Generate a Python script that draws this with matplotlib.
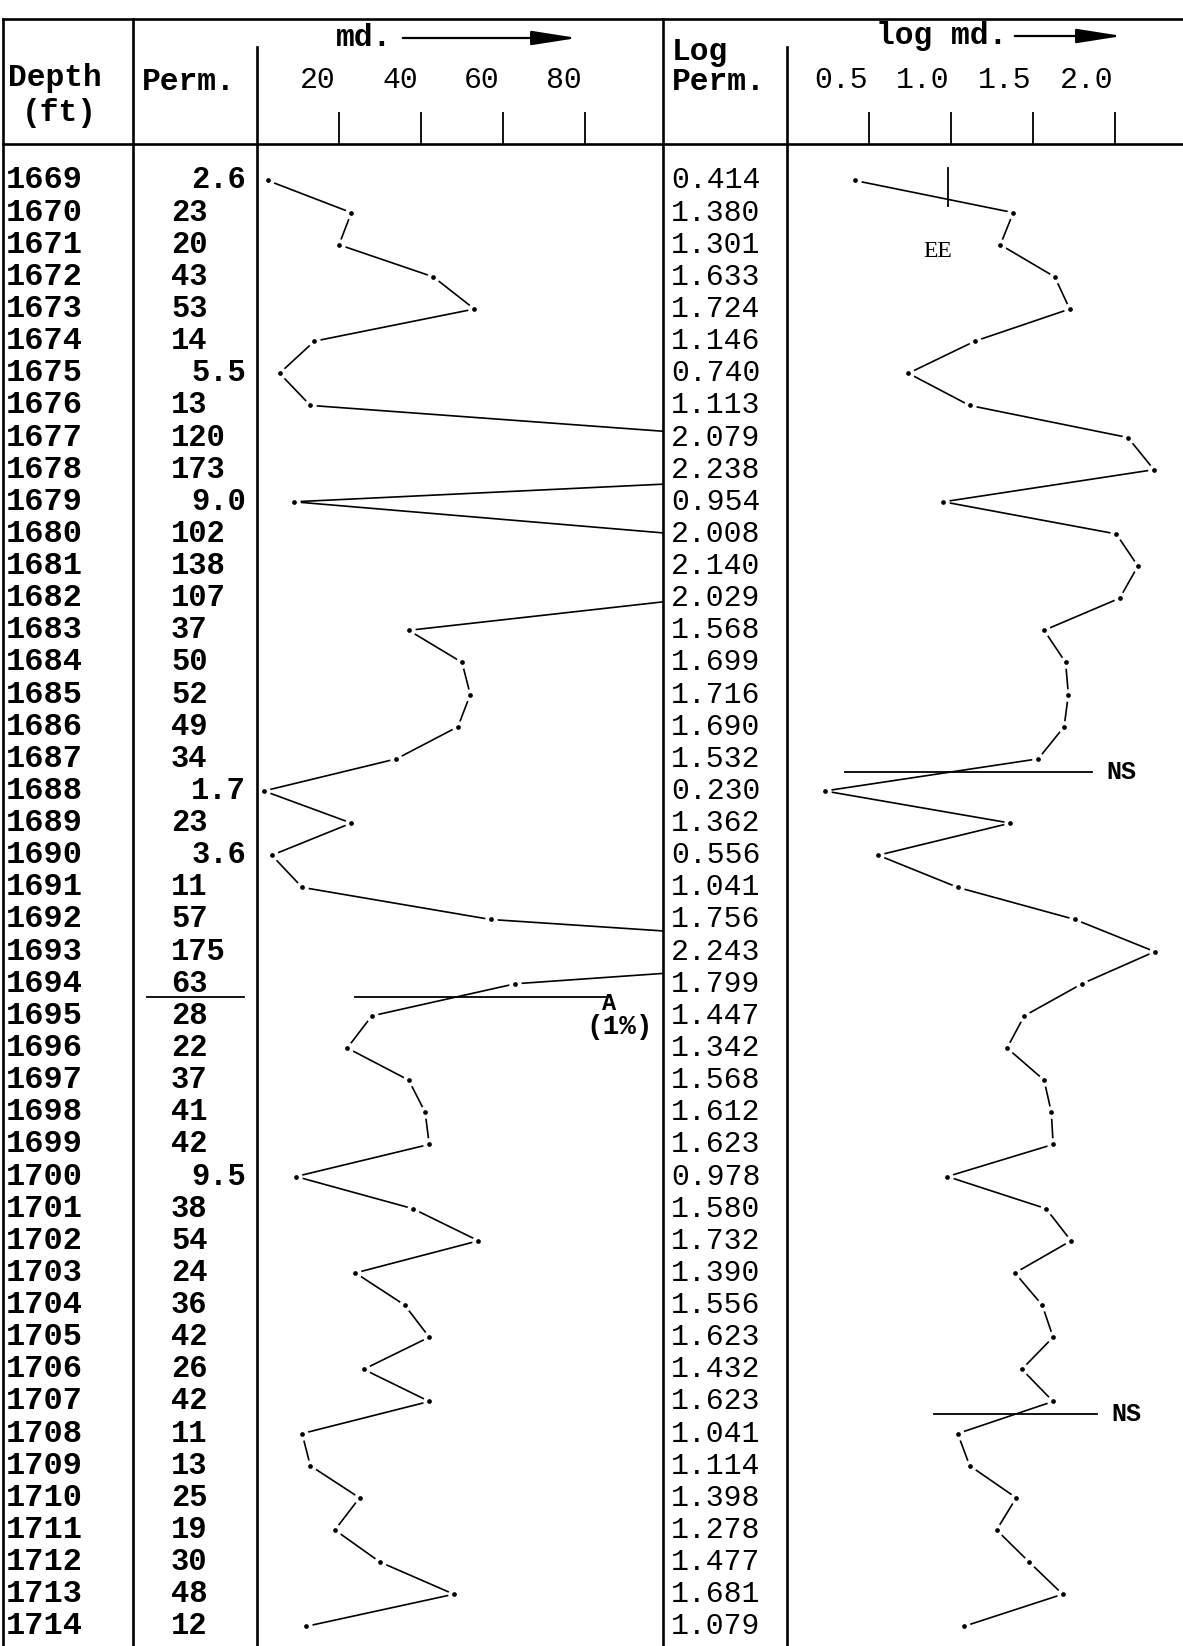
import numpy as np
import matplotlib.pyplot as plt
from matplotlib.transforms import blended_transform_factory, ScaledTranslation

plt.rcParams['font.family'] = ['Liberation Mono', 'DejaVu Sans Mono']

# table data
depths = np.arange(1669, 1715)
perm_txt = ["2.6", "23", "20", "43", "53", "14", "5.5", "13", "120", "173",
            "9.0", "102", "138", "107", "37", "50", "52", "49", "34", "1.7",
            "23", "3.6", "11", "57", "175", "63", "28", "22", "37", "41",
            "42", "9.5", "38", "54", "24", "36", "42", "26", "42", "11",
            "13", "25", "19", "30", "48", "12"]
perm = np.array(perm_txt, dtype=float)
log_perm = np.array([0.414, 1.380, 1.301, 1.633, 1.724, 1.146, 0.740, 1.113, 2.079, 2.238,
                     0.954, 2.008, 2.140, 2.029, 1.568, 1.699, 1.716, 1.690, 1.532, 0.230,
                     1.362, 0.556, 1.041, 1.756, 2.243, 1.799, 1.447, 1.342, 1.568, 1.612,
                     1.623, 0.978, 1.580, 1.732, 1.390, 1.556, 1.623, 1.432, 1.623, 1.041,
                     1.114, 1.398, 1.278, 1.477, 1.681, 1.079])

md_ticks = [20, 40, 60, 80]
md_tick_labels = ["20", "40", "60", "80"]
log_ticks = [0.5, 1.0, 1.5, 2.0]
log_tick_labels = ["0.5", "1.0", "1.5", "2.0"]

# marks drawn on the sheet (depth ft, value)
a_depth, a_md = 1694.4, (23.9, 85.9)
ns_marks = [(1687.4, 0.354, 1.86), (1707.4, 0.896, 1.89)]

W, H = 1183, 1646
fig = plt.figure(figsize=(W / 100, H / 100), dpi=100, facecolor='white')

ax_bg = fig.add_axes([0, 0, 1, 1])
ax_bg.set_xlim(0, W)
ax_bg.set_ylim(H, 0)
ax_bg.axis('off')
ax_bg.set_zorder(5)

top_px, row0_px, row_px = 144, 180.5, 32.13
y_top = depths[0] - (row0_px - top_px) / row_px
y_bot = depths[0] + (H - row0_px) / row_px


def col_axes(x0, x1, xmax, ticks, labels, shift):
    ax = fig.add_axes([x0 / W, 0, (x1 - x0) / W, (H - top_px) / H])
    ax.set_xlim(0, xmax)
    ax.set_ylim(y_bot, y_top)
    ax.patch.set_alpha(0)
    for s in ax.spines.values():
        s.set_visible(False)
    ax.set_yticks([])
    ax.xaxis.set_ticks_position('top')
    ax.set_xticks(ticks)
    ax.set_xticklabels(labels)
    ax.tick_params(axis='x', direction='out', length=23, width=1.3, pad=13, labelsize=21.5)
    for lab in ax.get_xticklabels():
        lab.set_transform(lab.get_transform() + ScaledTranslation(shift / 100, 0, fig.dpi_scale_trans))
    return ax


def trace(ax, x):
    ax.plot(x, depths, color='black', lw=1.2, zorder=2)
    ax.plot(x, depths, ls='none', marker='o', ms=9, mfc='white', mec='none', zorder=3)
    ax.plot(x, depths, ls='none', marker='o', ms=3.4, mfc='black', mec='none', zorder=4)


ax_md = col_axes(257, 663, 99.0, md_ticks, md_tick_labels, -21)
ax_log = col_axes(787, W, 2.415, log_ticks, log_tick_labels, -28)
trace(ax_md, perm)
trace(ax_log, log_perm)

# table rules
lw = 1.9
ax_bg.plot([3, W], [19, 19], color='k', lw=lw)
ax_bg.plot([3, W], [top_px, top_px], color='k', lw=lw)
for x in [3, 133, 663]:
    ax_bg.plot([x, x], [19, H], color='k', lw=lw)
for x in [257, 787]:
    ax_bg.plot([x, x], [47, H], color='k', lw=lw)

# headers
hk = dict(fontsize=22.5, fontweight='bold', va='center', ha='left')
ax_bg.text(8, 78, "Depth", **hk)
ax_bg.text(22, 113, "(ft)", **hk)
ax_bg.text(142, 82, "Perm.", **hk)
ax_bg.text(672, 52, "Log", **hk)
ax_bg.text(672, 82, "Perm.", **hk)
ax_bg.text(336, 38, "md.", **hk)
ax_bg.text(876, 36, "log md.", **hk)
arr = dict(arrowstyle='-|>,head_length=1.4,head_width=0.22', color='k', lw=1.6, mutation_scale=20)
ax_bg.annotate('', xy=(580, 38), xytext=(400, 38), arrowprops=arr)
ax_bg.annotate('', xy=(1125, 36), xytext=(1012, 36), arrowprops=arr)

# rows
tr = blended_transform_factory(ax_bg.transData, ax_md.transData)
for d, p, lp in zip(depths, perm_txt, log_perm):
    ax_bg.text(6, d, str(d), transform=tr, fontsize=23, fontweight='bold', va='center')
    if '.' in p:
        ax_bg.text(246, d, p, transform=tr, fontsize=22, fontweight='bold', va='center', ha='right')
    else:
        ax_bg.text(171, d, p, transform=tr, fontsize=22, fontweight='bold', va='center')
    ax_bg.text(671, d, f"{lp:.3f}", transform=tr, fontsize=21.5, va='center')

# A (1%) line
ax_bg.plot([147, 244], [a_depth, a_depth], transform=tr, color='k', lw=1.3)
ax_md.plot(a_md, [a_depth, a_depth], color='k', lw=1.3, zorder=5)
ax_md.text(a_md[1], a_depth - 0.15, "A", fontsize=17, fontweight='bold', ha='center', va='top')
ax_md.text(a_md[1] + 2.6, a_depth + 0.95, "(1%)", fontsize=20, fontweight='bold', ha='center', va='center')

# NS lines and EE mark
for d, x0, x1 in ns_marks:
    ax_log.plot([x0, x1], [d, d], color='k', lw=1.3, zorder=5)
    ax_log.text(x1 + 0.09, d, "NS", fontsize=18, fontweight='bold', va='center')
ax_log.plot([0.98, 0.98], [1668.6, 1669.8], color='k', lw=1.3)
ax_log.text(0.92, 1671.2, "EE", fontsize=17, ha='center', va='center', family='Liberation Serif')

fig.savefig("out.png", dpi=100, facecolor='white')
